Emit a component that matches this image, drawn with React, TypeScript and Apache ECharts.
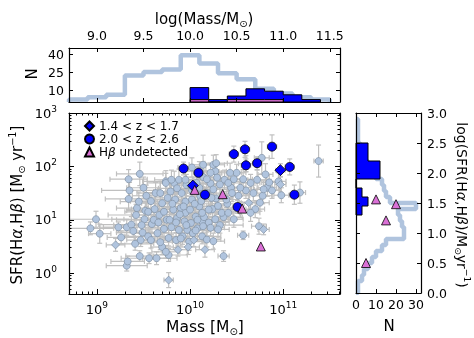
import React, { useEffect, useRef } from 'react';
import * as echarts from 'echarts';

const FONT = 'DejaVu Sans';

// ---------- main panel (values in log10 units) ----------
const massRange = [8.7, 11.61];
const sfrRange = [-0.39, 3.0];
const massMajor = [9, 10, 11];
const sfrMajor = [0, 1, 2, 3];

// ---------- top histogram ----------
const histMassTicks = [9.0, 9.5, 10.0, 10.5, 11.0, 11.5];
const histNTicks = [10, 25, 40];
const histNRange = [0, 45];
const allMassEdges = [8.7, 8.9, 9.1, 9.3, 9.5, 9.7, 9.9, 10.1, 10.3, 10.5, 10.7, 10.9, 11.1, 11.3, 11.5];
const allMassCounts = [2, 4, 6, 22, 25, 27, 39, 32, 24, 19, 11, 7, 4, 2];
const blueMassEdges = [10.0, 10.2, 10.4, 10.6, 10.8, 11.0, 11.2, 11.4];
const blueMassCounts = [12, 2, 5, 11, 9, 6, 2];
const pinkMassEdges = [10.0, 10.2, 10.4, 10.6, 10.8, 11.0];
const pinkMassCounts = [2, 0, 2, 2, 2];

// ---------- right histogram ----------
const rightSfrTicks = [0, 0.5, 1.0, 1.5, 2.0, 2.5, 3.0];
const rightNTicks = [0, 10, 20, 30];
const rightNRange = [0, 32.5];
const allSfrEdges = [0.0, 0.1, 0.2, 0.3, 0.4, 0.5, 0.6, 0.7, 0.8, 0.9, 1.0, 1.1, 1.2, 1.3, 1.4, 1.5, 1.6, 1.7, 1.8, 1.9, 2.0, 2.1, 2.2, 2.3, 2.4, 2.5, 2.6, 2.7, 2.8, 2.9];
const allSfrCounts = [1, 1, 3, 4, 6, 8, 10, 13, 15, 24, 24, 23, 22, 21, 30, 17, 15, 14, 13, 10, 8, 6, 4, 3, 2, 1, 1, 1, 1];
const blueSfrEdges = [1.3, 1.45, 1.6, 1.75, 1.9, 2.05, 2.2, 2.35, 2.5];
const blueSfrCounts = [3, 6, 3, 0, 12, 12, 6, 6];
const rightTriangleN = [10, 20, 15, 5];

// ---------- scatter points: [log M, log SFR, xErr, yErr] ----------
const grayCircles: number[][] = [
  [8.93, 0.84, 0.25, 0.12], [8.99, 1.01, 0.30, 0.15], [9.03, 0.74, 0.12, 0.18], [9.23, 0.86, 0.20, 0.10],
  [9.26, 0.67, 0.15, 0.12], [9.32, 0.86, 0.25, 0.15], [9.32, 0.14, 0.22, 0.10], [9.33, 0.22, 0.18, 0.10],
  [9.34, 1.76, 0.20, 0.18], [9.35, 1.55, 0.30, 0.15], [9.34, 1.39, 0.25, 0.20], [9.37, 0.91, 0.35, 0.15],
  [9.39, 0.79, 0.18, 0.12], [9.42, 1.09, 0.30, 0.20], [9.43, 1.22, 0.22, 0.15], [9.45, 1.34, 0.20, 0.18],
  [9.46, 0.32, 0.15, 0.10], [9.46, 1.86, 0.25, 0.22], [9.47, 0.62, 0.15, 0.12], [9.49, 0.76, 0.28, 0.14],
  [9.51, 1.01, 0.35, 0.16], [9.52, 1.17, 0.20, 0.15], [9.53, 1.45, 0.15, 0.20], [9.55, 0.69, 0.25, 0.12],
  [9.56, 0.28, 0.30, 0.10], [9.58, 0.62, 0.18, 0.15], [9.59, 0.92, 0.22, 0.18], [9.61, 1.00, 0.40, 0.14],
  [9.63, 1.50, 0.20, 0.20], [9.64, 0.28, 0.15, 0.12], [9.65, 0.75, 0.25, 0.15], [9.67, 1.09, 0.30, 0.18],
  [9.68, 1.50, 0.18, 0.22], [9.70, 0.49, 0.12, 0.14], [9.70, 1.31, 0.22, 0.15], [9.72, 0.83, 0.20, 0.16],
  [9.74, 1.72, 0.25, 0.20], [9.75, 1.00, 0.35, 0.14], [9.76, 1.41, 0.20, 0.18], [9.77, 0.66, 0.15, 0.15],
  [9.77, 0.34, 0.20, 0.12], [9.79, 1.53, 0.18, 0.20], [9.80, 0.86, 0.25, 0.14], [9.82, 1.19, 0.30, 0.18],
  [9.83, 1.69, 0.15, 0.22], [9.84, 1.38, 0.22, 0.16], [9.85, 0.62, 0.18, 0.14], [9.86, 1.03, 0.28, 0.15],
  [9.88, 0.81, 0.20, 0.18], [9.90, 1.22, 0.25, 0.14], [9.91, 1.50, 0.18, 0.20], [9.92, 0.69, 0.22, 0.15],
  [9.94, 0.97, 0.30, 0.16], [9.95, 1.34, 0.20, 0.18], [9.95, 1.13, 0.15, 0.14], [9.97, 0.81, 0.25, 0.15],
  [9.99, 0.59, 0.18, 0.16], [10.00, 1.19, 0.22, 0.18], [10.01, 0.94, 0.20, 0.14], [10.02, 1.38, 0.25, 0.16],
  [10.03, 0.75, 0.15, 0.14], [10.06, 1.06, 0.20, 0.18], [10.08, 0.84, 0.18, 0.15], [10.10, 1.25, 0.22, 0.16],
  [10.11, 1.44, 0.15, 0.18], [10.13, 0.69, 0.20, 0.14], [10.13, 0.97, 0.25, 0.16],
  [9.62, 1.20, 0.25, 0.15], [9.66, 0.95, 0.20, 0.14], [9.72, 1.15, 0.30, 0.16], [9.78, 1.00, 0.22, 0.15],
  [9.81, 1.30, 0.18, 0.18], [9.85, 0.95, 0.25, 0.14], [9.89, 1.10, 0.20, 0.16], [9.93, 1.25, 0.28, 0.15],
  [9.96, 0.90, 0.18, 0.14], [10.05, 1.30, 0.22, 0.16], [10.08, 1.00, 0.20, 0.15], [10.12, 1.35, 0.25, 0.18],
  [10.15, 1.05, 0.18, 0.14], [10.20, 0.95, 0.22, 0.16], [10.24, 1.20, 0.20, 0.15], [10.28, 1.40, 0.18, 0.18],
  [10.32, 0.90, 0.25, 0.15], [10.36, 1.05, 0.20, 0.14], [10.40, 1.30, 0.18, 0.16], [10.44, 1.60, 0.15, 0.18],
  [9.58, 1.35, 0.22, 0.16], [9.55, 1.15, 0.25, 0.15], [9.48, 0.90, 0.30, 0.14], [9.41, 0.55, 0.20, 0.12],
  [9.50, 1.60, 0.18, 0.20], [9.68, 0.58, 0.20, 0.14], [9.74, 0.40, 0.15, 0.12], [9.90, 0.65, 0.18, 0.14],
  [10.06, 0.80, 0.20, 0.15], [10.10, 1.60, 0.15, 0.18], [10.18, 1.50, 0.18, 0.16], [10.02, 1.55, 0.20, 0.18],
  [9.96, 1.65, 0.18, 0.20], [9.88, 1.75, 0.15, 0.20], [10.14, 1.80, 0.18, 0.18], [10.22, 1.68, 0.15, 0.16],
  [10.37, 1.75, 0.12, 0.18], [10.52, 1.45, 0.12, 0.16], [10.60, 1.55, 0.12, 0.15], [10.70, 1.20, 0.10, 0.16],
  [10.72, 1.75, 0.10, 0.18], [10.78, 1.45, 0.10, 0.15], [10.83, 1.60, 0.10, 0.16],
  [11.18, 1.51, 0.06, 0.20], [10.88, 1.55, 0.08, 0.15], [10.98, 1.46, 0.08, 0.14], [11.38, 2.10, 0.05, 0.30],
  [10.75, 1.32, 0.10, 0.16], [10.74, 0.88, 0.08, 0.15], [10.57, 0.71, 0.06, 0.08], [10.81, 1.85, 0.08, 0.20],
  [10.77, 2.16, 0.08, 0.30], [10.65, 1.69, 0.10, 0.16], [10.68, 1.50, 0.10, 0.15], [10.57, 1.76, 0.10, 0.18],
  [10.54, 1.60, 0.12, 0.16], [10.47, 1.76, 0.12, 0.15], [10.50, 1.88, 0.10, 0.16], [10.43, 1.88, 0.12, 0.18],
  [10.41, 1.69, 0.12, 0.15], [10.45, 1.50, 0.12, 0.16], [10.39, 1.38, 0.12, 0.15], [10.32, 1.66, 0.12, 0.18],
  [10.27, 1.91, 0.12, 0.16], [10.29, 1.79, 0.12, 0.15], [10.25, 1.57, 0.15, 0.16], [10.22, 1.88, 0.12, 0.18],
  [10.23, 1.41, 0.15, 0.15], [10.18, 1.76, 0.15, 0.16], [10.20, 1.19, 0.15, 0.15], [10.30, 1.26, 0.12, 0.16],
  [10.34, 1.13, 0.12, 0.15], [10.41, 1.13, 0.12, 0.16], [10.47, 1.01, 0.10, 0.15], [10.27, 1.01, 0.15, 0.14],
  [10.22, 0.85, 0.15, 0.15], [10.30, 0.82, 0.12, 0.16], [10.18, 0.63, 0.15, 0.14], [10.25, 0.60, 0.12, 0.15],
  [10.36, 0.32, 0.06, 0.10], [10.13, 1.13, 0.15, 0.16], [10.14, 0.88, 0.18, 0.15], [10.65, 1.13, 0.10, 0.16],
  [10.54, 1.19, 0.10, 0.15], [10.79, 1.57, 0.10, 0.16], [10.85, 1.70, 0.08, 0.15], [10.95, 1.72, 0.08, 0.16],
  [10.25, 2.03, 0.12, 0.18], [10.14, 2.03, 0.15, 0.18], [10.28, 2.06, 0.12, 0.16], [9.74, 1.69, 0.20, 0.18],
  [9.80, 1.75, 0.18, 0.18], [9.86, 1.59, 0.20, 0.16], [9.95, 1.75, 0.18, 0.18], [10.07, 1.69, 0.18, 0.16],
  [10.10, 1.91, 0.15, 0.18], [10.02, 1.98, 0.15, 0.18],
];
const grayDiamonds: number[][] = [
  [9.20, 0.53, 0.10, 0.12], [9.77, -0.13, 0.05, 0.14], [9.87, 0.44, 0.10, 0.12], [9.98, 0.49, 0.12, 0.14],
  [10.04, 0.62, 0.10, 0.12], [10.79, 0.82, 0.06, 0.10], [10.16, 0.44, 0.10, 0.14], [10.63, 1.32, 0.08, 0.15],
  [10.97, 1.66, 0.06, 0.14], [10.60, 2.05, 0.08, 0.15],
];
const blueCircles: number[][] = [
  [9.93, 1.96, 0.05, 0.12], [10.09, 1.88, 0.05, 0.12], [10.16, 1.47, 0.05, 0.12], [10.47, 2.23, 0.05, 0.15],
  [10.59, 2.32, 0.05, 0.15], [10.60, 2.02, 0.05, 0.12], [10.72, 2.06, 0.05, 0.12], [10.88, 2.37, 0.05, 0.22],
  [11.07, 1.99, 0.05, 0.15], [11.12, 1.47, 0.05, 0.18], [10.51, 1.24, 0.05, 0.12],
];
const blueDiamonds: number[][] = [
  [10.03, 1.64, 0.05, 0.12], [10.97, 1.93, 0.05, 0.12],
];
const hbUndetected: number[][] = [
  [10.05, 1.56], [10.35, 1.48], [10.56, 1.21], [10.76, 0.50],
];

const legendNames = ['1.4 < z < 1.7', '2.0 < z < 2.6', 'Hβ undetected'];

// ---------- helpers ----------
const LIGHT = '#b0c4de';
const BLUE = '#0000ff';
const PINK = '#da70d6';
const ERR = '#c0c0c0';

function logMinor(range: number[]) {
  const out: number[] = [];
  for (let n = Math.floor(range[0]); n <= Math.ceil(range[1]); n++) {
    for (let k = 2; k <= 9; k++) {
      const v = n + Math.log10(k);
      if (v > range[0] + 0.005 && v < range[1] - 0.001) out.push(v);
    }
  }
  return out;
}

function stepOutline(edges: number[], counts: number[]) {
  const pts: number[][] = [[edges[0], 0]];
  counts.forEach((c, i) => {
    pts.push([edges[i], c]);
    pts.push([edges[i + 1], c]);
  });
  pts.push([edges[edges.length - 1], 0]);
  return pts;
}

function axis(gridIndex: number, range: number[], position: string, ticks: number[], len: number, showLine: boolean, label?: any) {
  return {
    type: 'value',
    gridIndex,
    min: range[0],
    max: range[1],
    position,
    z: 10,
    splitLine: { show: false },
    axisLine: { show: showLine, onZero: false, lineStyle: { color: '#000', width: 1.2 } },
    axisTick: { show: true, inside: true, length: len, customValues: ticks, lineStyle: { color: '#000', width: 1 } },
    axisLabel: label ? { show: true, color: '#000', fontFamily: FONT, ...label } : { show: false },
  };
}

function polygonSeries(xi: number, yi: number, pts: number[][], fill: string) {
  return {
    type: 'custom',
    xAxisIndex: xi,
    yAxisIndex: yi,
    silent: true,
    z: 4,
    data: [[0, 0]],
    renderItem: (_p: any, api: any) => ({
      type: 'polygon',
      shape: { points: pts.map((p) => api.coord(p)) },
      style: { fill, stroke: '#000', lineWidth: 1 },
    }),
  };
}

const powRich = {
  b: { fontFamily: FONT, fontSize: 13, lineHeight: 18, color: '#000' },
  s: { fontFamily: FONT, fontSize: 9, lineHeight: 9, verticalAlign: 'top', color: '#000' },
};

const tr = (fs: number) => ({
  n: { fontFamily: FONT, fontSize: fs, lineHeight: fs + 4, fill: '#000' },
  g: { fontFamily: FONT, fontSize: fs, lineHeight: fs + 4, fontStyle: 'italic', fill: '#000' },
  sub: { fontFamily: FONT, fontSize: fs * 0.65, lineHeight: fs * 0.65, verticalAlign: 'bottom', fill: '#000' },
  sup: { fontFamily: FONT, fontSize: fs * 0.65, lineHeight: fs * 0.65, verticalAlign: 'top', fill: '#000' },
});

function buildOption() {
  const massMinor = logMinor(massRange);
  const sfrMinor = logMinor(sfrRange);
  const errData = [...grayCircles, ...grayDiamonds, ...blueCircles, ...blueDiamonds];

  return {
    animation: false,
    textStyle: { fontFamily: FONT },
    grid: [
      { left: 69, top: 48, width: 271, height: 54 },
      { left: 69, top: 113, width: 271, height: 181 },
      { left: 356, top: 113, width: 65, height: 180 },
    ],
    xAxis: [
      axis(0, massRange, 'top', histMassTicks, 4, true, {
        customValues: histMassTicks, formatter: (v: number) => v.toFixed(1), fontSize: 12.5, margin: 6,
      }),
      axis(0, massRange, 'bottom', histMassTicks, 4, true),
      axis(1, massRange, 'bottom', massMajor, 5, true, {
        customValues: massMajor, formatter: (v: number) => `{b|10}{s|${Math.round(v)}}`, rich: powRich, margin: 6,
      }),
      axis(1, massRange, 'bottom', massMinor, 2.5, false),
      axis(1, massRange, 'top', massMajor, 5, true),
      axis(1, massRange, 'top', massMinor, 2.5, false),
      axis(2, rightNRange, 'bottom', rightNTicks, 4, true, {
        customValues: rightNTicks, formatter: (v: number) => String(v), fontSize: 12.5, margin: 5,
      }),
      axis(2, rightNRange, 'top', rightNTicks, 4, true),
    ],
    yAxis: [
      axis(0, histNRange, 'left', histNTicks, 4, true, {
        customValues: histNTicks, formatter: (v: number) => String(v), fontSize: 12.5, margin: 5,
      }),
      axis(0, histNRange, 'right', histNTicks, 4, true),
      axis(1, sfrRange, 'left', sfrMajor, 5, true, {
        customValues: sfrMajor, formatter: (v: number) => `{b|10}{s|${Math.round(v)}}`, rich: powRich, margin: 12,
      }),
      axis(1, sfrRange, 'left', sfrMinor, 2.5, false),
      axis(1, sfrRange, 'right', sfrMajor, 5, true),
      axis(1, sfrRange, 'right', sfrMinor, 2.5, false),
      axis(2, [0, 3], 'right', rightSfrTicks, 4, true, {
        customValues: rightSfrTicks, formatter: (v: number) => v.toFixed(1), fontSize: 12.5, margin: 6,
      }),
      axis(2, [0, 3], 'left', rightSfrTicks, 4, true),
    ],
    legend: {
      data: legendNames,
      orient: 'vertical',
      left: 84,
      top: 120,
      padding: 0,
      itemWidth: 9,
      itemHeight: 9,
      itemGap: 1,
      selectedMode: false,
      textStyle: {
        fontFamily: FONT,
        fontSize: 12,
        color: '#000',
        rich: {
          n: { fontFamily: FONT, fontSize: 12, color: '#000' },
          g: { fontFamily: FONT, fontSize: 12, color: '#000', fontStyle: 'italic' },
        },
      },
      formatter: (name: string) => (name === 'Hβ undetected' ? '{n|H}{g|β}{n| undetected}' : name),
    },
    graphic: [
      { type: 'text', x: 204, y: 19, style: { text: '{n|log(Mass/M}{sub|⊙}{n|)}', rich: tr(15), align: 'center', verticalAlign: 'middle' } },
      { type: 'text', x: 32, y: 74, rotation: Math.PI / 2, style: { text: '{n|N}', rich: tr(15), align: 'center', verticalAlign: 'middle' } },
      {
        type: 'text', x: 17, y: 205, rotation: Math.PI / 2,
        style: { text: '{n|SFR(H}{g|α}{n|,H}{g|β}{n|) [M}{sub|⊙}{n| yr}{sup|−1}{n|]}', rich: tr(15), align: 'center', verticalAlign: 'middle' },
      },
      { type: 'text', x: 205, y: 327, style: { text: '{n|Mass [M}{sub|⊙}{n|]}', rich: tr(15.5), align: 'center', verticalAlign: 'middle' } },
      { type: 'text', x: 389, y: 326, style: { text: '{n|N}', rich: tr(15), align: 'center', verticalAlign: 'middle' } },
      {
        type: 'text', x: 462, y: 205, rotation: -Math.PI / 2,
        style: { text: '{n|log(SFR(H}{g|α}{n|,H}{g|β}{n|)/M}{sub|⊙}{n|yr}{sup|−1}{n|)}', rich: tr(14), align: 'center', verticalAlign: 'middle' },
      },
    ],
    series: [
      // top histogram
      {
        type: 'line', xAxisIndex: 0, yAxisIndex: 0, silent: true, symbol: 'none', z: 1,
        data: stepOutline(allMassEdges, allMassCounts),
        lineStyle: { color: LIGHT, width: 4.5 },
      },
      polygonSeries(0, 0, stepOutline(blueMassEdges, blueMassCounts), BLUE),
      polygonSeries(0, 0, stepOutline(pinkMassEdges, pinkMassCounts), PINK),
      // right histogram
      {
        type: 'line', xAxisIndex: 6, yAxisIndex: 6, silent: true, symbol: 'none', z: 1,
        data: stepOutline(allSfrEdges, allSfrCounts).map((p) => [p[1], p[0]]),
        lineStyle: { color: LIGHT, width: 4.5 },
      },
      polygonSeries(6, 6, stepOutline(blueSfrEdges, blueSfrCounts).map((p) => [p[1], p[0]]), BLUE),
      {
        type: 'scatter', xAxisIndex: 6, yAxisIndex: 6, silent: true, symbol: 'triangle', symbolSize: 9, z: 6,
        data: hbUndetected.map((p, i) => [rightTriangleN[i], p[1]]),
        itemStyle: { color: PINK, borderColor: '#000', borderWidth: 0.8, opacity: 1 },
      },
      // main error bars
      {
        type: 'custom', xAxisIndex: 2, yAxisIndex: 2, silent: true, clip: true, z: 2,
        data: errData,
        encode: { x: 0, y: 1 },
        renderItem: (_p: any, api: any) => {
          const x = api.value(0), y = api.value(1), xe = api.value(2), ye = api.value(3);
          const l = api.coord([x - xe, y]);
          const r = api.coord([x + xe, y]);
          const t = api.coord([x, y + ye]);
          const b = api.coord([x, y - ye]);
          const cap = 2.5;
          const st = { stroke: ERR, lineWidth: 1.2 };
          return {
            type: 'group',
            children: [
              { type: 'line', shape: { x1: l[0], y1: l[1], x2: r[0], y2: r[1] }, style: st },
              { type: 'line', shape: { x1: t[0], y1: t[1], x2: b[0], y2: b[1] }, style: st },
              { type: 'line', shape: { x1: l[0], y1: l[1] - cap, x2: l[0], y2: l[1] + cap }, style: st },
              { type: 'line', shape: { x1: r[0], y1: r[1] - cap, x2: r[0], y2: r[1] + cap }, style: st },
              { type: 'line', shape: { x1: t[0] - cap, y1: t[1], x2: t[0] + cap, y2: t[1] }, style: st },
              { type: 'line', shape: { x1: b[0] - cap, y1: b[1], x2: b[0] + cap, y2: b[1] }, style: st },
            ],
          };
        },
      },
      {
        type: 'scatter', xAxisIndex: 2, yAxisIndex: 2, silent: true, symbol: 'circle', symbolSize: 7, z: 3,
        data: grayCircles.map((p) => [p[0], p[1]]),
        itemStyle: { color: LIGHT, borderColor: '#7f90a5', borderWidth: 0.7, opacity: 1 },
      },
      {
        type: 'scatter', xAxisIndex: 2, yAxisIndex: 2, silent: true, symbol: 'diamond', symbolSize: 8, z: 3,
        data: grayDiamonds.map((p) => [p[0], p[1]]),
        itemStyle: { color: LIGHT, borderColor: '#7f90a5', borderWidth: 0.7, opacity: 1 },
      },
      {
        name: legendNames[0], type: 'scatter', xAxisIndex: 2, yAxisIndex: 2, silent: true, symbol: 'diamond', symbolSize: 11, z: 5,
        data: blueDiamonds.map((p) => [p[0], p[1]]),
        itemStyle: { color: BLUE, borderColor: '#000', borderWidth: 0.8, opacity: 1 },
      },
      {
        name: legendNames[1], type: 'scatter', xAxisIndex: 2, yAxisIndex: 2, silent: true, symbol: 'circle', symbolSize: 9, z: 5,
        data: blueCircles.map((p) => [p[0], p[1]]),
        itemStyle: { color: BLUE, borderColor: '#000', borderWidth: 0.8, opacity: 1 },
      },
      {
        name: legendNames[2], type: 'scatter', xAxisIndex: 2, yAxisIndex: 2, silent: true, symbol: 'triangle', symbolSize: 9, z: 6,
        data: hbUndetected.map((p) => [p[0], p[1]]),
        itemStyle: { color: PINK, borderColor: '#000', borderWidth: 0.8, opacity: 1 },
      },
    ],
  };
}

export default function App() {
  const ref = useRef<HTMLDivElement>(null);
  useEffect(() => {
    const chart = echarts.init(ref.current!, null, { renderer: 'svg' });
    chart.setOption(buildOption() as any);
    return () => chart.dispose();
  }, []);
  return <div ref={ref} style={{ position: 'fixed', left: 0, top: 0, width: 474, height: 338 }} />;
}
